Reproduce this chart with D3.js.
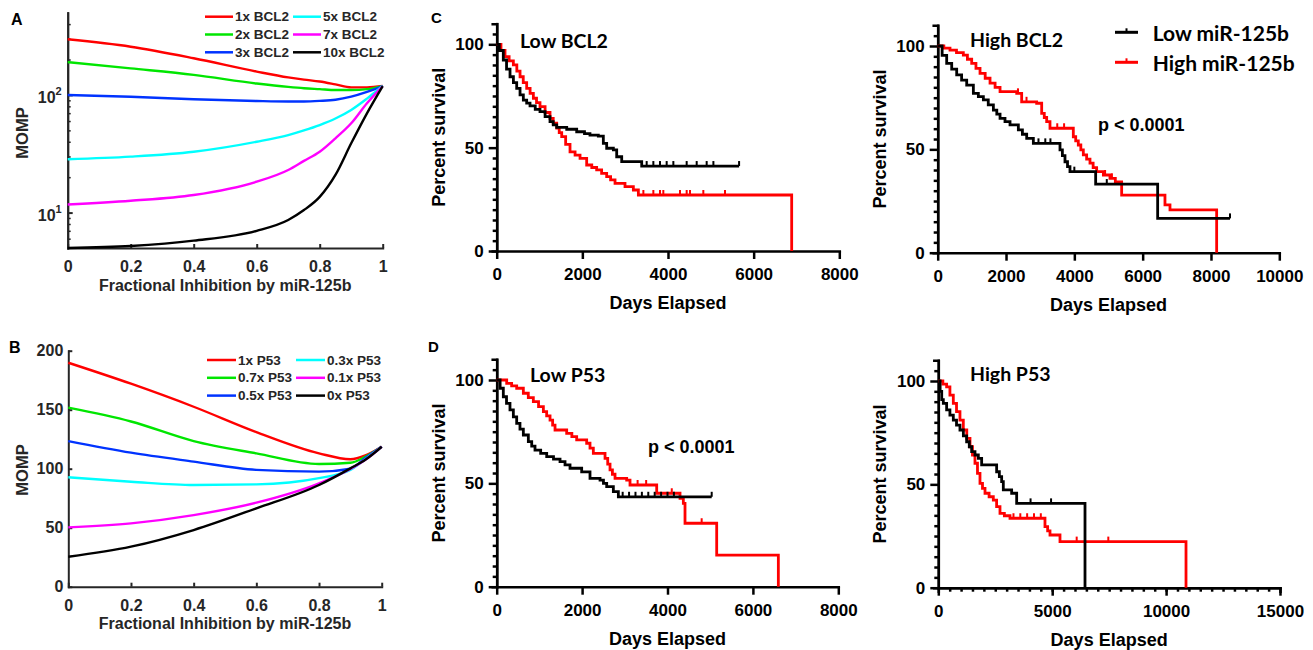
<!DOCTYPE html>
<html lang="en">
<head>
<meta charset="UTF-8">
<title>MOMP and survival</title>
<script src="https://d3js.org/d3.v7.min.js"></script>
<style>
  body { margin: 0; background: #fff; }
  text { font-family: "Liberation Sans", Arial, sans-serif; }
</style>
</head>
<body>
<script>
    // ---- panel A: MOMP vs inhibition, BCL2 levels (log axis)
    fracA = [0, 0.2, 0.4, 0.6, 0.7, 0.75, 0.8, 0.85, 0.9, 0.95, 1]
    bcl2Labels = ["1x BCL2", "2x BCL2", "3x BCL2", "5x BCL2", "7x BCL2", "10x BCL2"]
    bcl2_1x  = [297, 257, 205, 158, 141, 135, 130, 123, 116, 116, 119]
    bcl2_2x  = [190, 168, 148, 125, 117, 114, 112, 110, 110, 112, 119]
    bcl2_3x  = [100, 96.6, 91.8, 88.8, 88, 88, 89, 91, 96.6, 106, 119]
    bcl2_5x  = [28.4, 29.9, 32.9, 40, 45.6, 50, 55.5, 63, 74.5, 93, 119]
    bcl2_7x  = [11.7, 12.6, 14.1, 18.3, 23, 27.5, 32.9, 42.8, 57.4, 85, 119]
    bcl2_10x = [5, 5.2, 5.77, 7.0, 8.65, 10.5, 13.6, 20.9, 38.8, 69.8, 119]

    // ---- panel B: MOMP vs inhibition, P53 levels
    fracB = [0, 0.2, 0.4, 0.6, 0.8, 0.9, 0.95, 1]
    p53Labels = ["1x P53", "0.7x P53", "0.5x P53", "0.3x P53", "0.1x P53", "0x P53"]
    p53_1   = [189.8, 172, 152.5, 131, 113, 108, 111.5, 118.6]
    p53_07  = [151.7, 140, 123.4, 113, 104, 105, 110.5, 118.6]
    p53_05  = [123.4, 113.6, 106, 99, 97.5, 100, 109.5, 118.6]
    p53_03  = [92.7, 89, 86.2, 86.7, 92, 99, 108.5, 118.6]
    p53_01  = [50.3, 53.7, 60.7, 71.2, 87.6, 99.7, 108, 118.6]
    p53_0   = [25.4, 33.9, 48, 66.4, 86.2, 100.3, 108, 118.6]

    modelColors = ["#ff0000", "#00e600", "#0033ff", "#00ffff", "#ff00ff", "#000000"]

    // ---- Kaplan-Meier curves: [days, percent survival] at each step
    lowBcl2_lowMir = [[0,100],[60,97],[154,92.4],[230,88],[311,84.3],[390,81.5],[467,78.7],[545,75.5],[622,73],[700,71.5],[778,70.2],[900,68.5],[1011,67.4],[1130,65],[1245,62.6],[1320,61],[1401,59.8],[1635,58.9],[1868,57.7],[2050,56.8],[2178,56.1],[2373,55.6],[2490,52.1],[2568,49.7],[2724,48.9],[2802,45.6],[2919,43.2],[3386,41.1],[5660,41.1]]
    lowBcl2_highMir = [[0,100],[100,97],[194,94],[290,92],[389,90],[470,87],[545,84.3],[620,81.5],[700,78.7],[780,76.3],[856,73.9],[930,71.8],[1011,69.8],[1130,67],[1245,64.2],[1320,61.8],[1401,59.4],[1460,57.3],[1518,55.3],[1610,51.6],[1712,48],[1830,46.4],[1946,44.8],[2101,41.6],[2220,40.4],[2334,39.2],[2450,37.6],[2568,36],[2660,34.4],[2763,32.7],[2996,31.1],[3191,29.5],[3308,27.1],[6888,0]]
    lowBcl2_lowMirCens = [3502, 3658, 3813, 3969, 4125, 4436, 4670, 4903, 5060, 5660]
    lowBcl2_highMirCens = [3425, 3658, 3813, 3891, 4280, 4436, 4514, 4825, 5331]

    highBcl2_lowMir = [[0,100],[130,95.5],[263,91.6],[410,88.8],[556,86],[700,83.5],[849,81.1],[1044,77.1],[1190,75.5],[1337,73.9],[1480,71.5],[1630,69],[1730,67],[1825,65],[1970,63.4],[2117,61.8],[2361,59.4],[2480,57.3],[2605,55.3],[2800,52.9],[3580,49.7],[3650,47],[3726,44],[3800,41.6],[3872,39.2],[4624,33.2],[6439,16.6],[8556,16.6]]
    highBcl2_highMir = [[0,100],[180,99],[360,98],[550,96.8],[750,95.6],[870,93.6],[995,91.6],[1120,89.2],[1239,86.8],[1390,84.4],[1532,82],[1680,80],[1825,77.9],[2313,77.1],[2458,73],[2897,72.3],[3044,67.4],[3120,65.4],[3190,63.4],[3287,60.2],[3970,56.1],[4040,54.1],[4116,52.1],[4190,49.7],[4263,47.3],[4360,45.3],[4458,43.3],[4550,41.2],[4653,39.2],[4850,37.6],[5043,36],[5200,34.3],[5385,27.9],[6653,23.1],[6800,20.7],[8166,0]]
    highBcl2_lowMirCens = [2950, 3150, 3300, 4000, 4950, 8556]
    highBcl2_highMirCens = [2350, 2600, 3500, 3700, 4900, 5100]

    lowP53_lowMir = [[0,100],[80,96],[155,91.9],[230,88.7],[311,85.5],[390,82.2],[468,79],[545,76.2],[624,73.4],[741,70.2],[820,68],[897,66.1],[1030,64.5],[1171,62.9],[1330,61.7],[1483,60.5],[1600,58.9],[1717,57.3],[1990,55.6],[2185,52.4],[2420,51.6],[2500,50],[2576,48.4],[2732,46],[2849,43.5],[5035,43.5]]
    lowP53_highMir = [[0,100],[234,98.4],[350,97.2],[468,96],[624,93.6],[740,91.5],[858,89.5],[980,87.1],[1093,84.7],[1170,82.6],[1249,80.6],[1310,78.2],[1366,75.8],[1639,74.2],[1760,72.6],[1873,71],[2107,69.4],[2185,67],[2263,64.5],[2537,62.1],[2600,59.3],[2654,56.5],[2710,54.4],[2771,52.4],[3044,51.6],[3122,49.2],[3747,45.2],[4293,42.8],[4371,40.3],[4410,30.7],[5152,15.3],[6596,0]]
    lowP53_lowMirCens = [2950, 3100, 3250, 3400, 3550, 3700, 3850, 4000, 4150, 5035]
    lowP53_highMirCens = [3300, 3500, 4100, 4800]

    highP53_lowMir = [[0,100],[80,95],[150,91],[220,89.2],[366,86],[510,83.5],[659,81.1],[800,78.7],[951,76.3],[1100,73.5],[1244,70.6],[1360,68.2],[1464,65.8],[1610,64.2],[1757,62.6],[1903,59.4],[2561,56.1],[2680,53.7],[2781,51.3],[2854,47.3],[3220,45.7],[3440,40.8],[6440,0]]
    highP53_highMir = [[0,100],[200,98.5],[366,97.2],[510,93.2],[659,89.2],[800,85.2],[951,81.1],[1098,76.3],[1250,72.2],[1391,68.2],[1500,64.2],[1610,60.2],[1720,55.3],[1830,50.5],[1940,48.1],[2050,45.7],[2230,44],[2415,42.4],[2560,39.2],[2708,36],[2900,34.8],[3147,33.6],[4683,29.5],[4800,27.5],[4903,25.5],[5342,22.3],[10874,0]]
    highP53_lowMirCens = [4050, 4950]
    highP53_highMirCens = [3300, 3600, 3900, 4200, 4500, 6075, 7463]

    svg = d3.select("body").append("svg")
        .attr("width", 1313)
        .attr("height", 650)

    function styleAxis(ax, color, size, width) {
        ax.select(".domain").attr("stroke", color).attr("stroke-width", width).attr("stroke-linecap", "square")
        ax.selectAll(".tick line").attr("stroke", color).attr("stroke-width", width)
        ax.selectAll(".tick text")
            .attr("fill", color)
            .attr("font-size", size)
            .attr("font-weight", "bold")
            .attr("font-family", "'Liberation Sans', Arial, sans-serif")
    }

    function modelPanel(o) {
        g = svg.append("g")
        x = d3.scaleLinear().domain([0, 1]).range(o.xr)
        y = o.y
        line = d3.line()
            .x((d, i) => x(o.frac[i]))
            .y(d => y(d))
            .curve(d3.curveMonotoneX)

        //axes
        ax = g.append("g")
            .attr("transform", "translate(0," + y.range()[0] + ")")
            .call(d3.axisBottom(x).tickValues([0, 0.2, 0.4, 0.6, 0.8, 1])
                .tickSizeInner(-4).tickSizeOuter(0).tickPadding(13)
                .tickFormat(d3.format("~g")))
        styleAxis(ax, "#262626", 16, 2)

        ay = g.append("g").attr("transform", "translate(" + o.xr[0] + ",0)")
        if (o.log) {
            minor = [6, 7, 8, 9, 20, 30, 40, 50, 60, 70, 80, 90, 200, 300, 400]
            ay.call(d3.axisLeft(y).tickValues(minor).tickSizeInner(-3).tickSizeOuter(0).tickFormat(""))
            styleAxis(ay, "#262626", 16, 2)
            ay.selectAll(".tick line").attr("stroke-width", 1.5)
            ay2 = g.append("g").attr("transform", "translate(" + o.xr[0] + ",0)")
                .call(d3.axisLeft(y).tickValues([10, 100]).tickSizeInner(-5).tickSizeOuter(0).tickFormat(""))
            styleAxis(ay2, "#262626", 16, 2)
            g.selectAll("text.sup").data([[10, "1"], [100, "2"]]).join("text")
                .attr("class", "sup")
                .attr("x", o.xr[0] - 6)
                .attr("y", d => y(d[0]) + 8)
                .attr("text-anchor", "end")
                .attr("fill", "#262626")
                .attr("font-size", 16)
                .attr("font-weight", "bold")
                .text("10")
                .append("tspan")
                .attr("dy", -8)
                .attr("font-size", 11)
                .text(d => d[1])
        } else {
            ay.call(d3.axisLeft(y).tickValues([0, 50, 100, 150, 200])
                .tickSizeInner(-4).tickSizeOuter(0).tickPadding(5))
            styleAxis(ay, "#262626", 16, 2)
        }

        o.series.forEach((s, i) => {
            g.append("path")
                .attr("d", line(s))
                .attr("fill", "none")
                .attr("stroke", modelColors[i])
                .attr("stroke-width", 2.4)
        })

        //legend, 2 columns x 3 rows
        o.labels.forEach((lab, i) => {
            col = Math.floor(i / 3)
            row = i % 3
            ly = o.legY + row * 17.8
            lx = o.legX[col]
            g.append("line")
                .attr("x1", lx).attr("x2", lx + o.legLen)
                .attr("y1", ly).attr("y2", ly)
                .attr("stroke", modelColors[i]).attr("stroke-width", 2.5)
            g.append("text")
                .attr("x", lx + o.legLen + 2).attr("y", ly)
                .attr("dominant-baseline", "central")
                .attr("fill", "#262626")
                .attr("font-size", 13.5)
                .attr("font-weight", "bold")
                .text(lab)
        })

        g.append("text")
            .attr("transform", "translate(" + (o.xr[0] - 46) + "," + o.yMid + ") rotate(-90)")
            .attr("text-anchor", "middle")
            .attr("dominant-baseline", "central")
            .attr("fill", "#262626").attr("font-size", 16.5).attr("font-weight", "bold")
            .text("MOMP")
        g.append("text")
            .attr("x", (o.xr[0] + o.xr[1]) / 2)
            .attr("y", y.range()[0] + 37)
            .attr("text-anchor", "middle")
            .attr("dominant-baseline", "central")
            .attr("fill", "#262626").attr("font-size", 16).attr("font-weight", "bold")
            .text("Fractional Inhibition by miR-125b")
        g.append("text")
            .attr("x", o.letter[0]).attr("y", o.letter[1])
            .attr("fill", "#000").attr("font-size", 16).attr("font-weight", "bold")
            .text(o.letter[2])
    }

    function stepValue(pts, t) {
        v = pts[0][1]
        pts.forEach(p => { if (p[0] <= t) v = p[1] })
        return v
    }

    function kmPanel(o) {
        g = svg.append("g")
        x = d3.scaleLinear().domain([0, o.xMax]).range([o.x0, o.x1])
        y = d3.scaleLinear().domain([0, 110]).range([o.y0, o.y0 - 110 * 2.067])
        line = d3.line().x(d => x(d[0])).y(d => y(d[1])).curve(d3.curveStepAfter)

        //minor ticks first
        aym = g.append("g").attr("transform", "translate(" + o.x0 + ",0)")
            .call(d3.axisLeft(y).tickValues(d3.range(5, 110, 5).filter(v => v % 50 != 0))
                .tickSize(4).tickFormat(""))
        styleAxis(aym, "#000", 17, 2.5)
        if (o.xMinor) {
            axm = g.append("g").attr("transform", "translate(0," + o.y0 + ")")
                .call(d3.axisBottom(x).tickValues(d3.range(o.xMinor, o.xMax, o.xMinor))
                    .tickSize(4).tickFormat(""))
            styleAxis(axm, "#000", 17, 2.5)
        }
        ay = g.append("g").attr("transform", "translate(" + o.x0 + ",0)")
            .call(d3.axisLeft(y).tickValues([0, 50, 100]).tickSizeInner(8).tickSizeOuter(0).tickPadding(5))
        styleAxis(ay, "#000", 17, 2.5)
        ax = g.append("g").attr("transform", "translate(0," + o.y0 + ")")
            .call(d3.axisBottom(x).tickValues(o.xTicks).tickSizeInner(8).tickSizeOuter(0)
                .tickPadding(9).tickFormat(d3.format("d")))
        styleAxis(ax, "#000", 17, 2.5)

        o.curves.forEach(c => {
            g.append("path")
                .attr("d", line(c.pts))
                .attr("fill", "none")
                .attr("stroke", c.color)
                .attr("stroke-width", 2.8)
            g.selectAll(null).data(c.cens).join("line")
                .attr("x1", d => x(d)).attr("x2", d => x(d))
                .attr("y1", d => y(stepValue(c.pts, d)))
                .attr("y2", d => y(stepValue(c.pts, d)) - 5)
                .attr("stroke", c.color).attr("stroke-width", 2)
        })

        g.append("text")
            .attr("transform", "translate(" + (o.x0 - 58) + "," + ((y(0) + y(110)) / 2) + ") rotate(-90)")
            .attr("text-anchor", "middle").attr("dominant-baseline", "central")
            .attr("font-size", 18).attr("font-weight", "bold")
            .text("Percent survival")
        g.append("text")
            .attr("x", (o.x0 + o.x1) / 2).attr("y", o.y0 + 52)
            .attr("text-anchor", "middle").attr("dominant-baseline", "central")
            .attr("font-size", 18).attr("font-weight", "bold")
            .text("Days Elapsed")
        g.append("text")
            .attr("x", o.title[0]).attr("y", o.title[1])
            .attr("dominant-baseline", "central")
            .attr("font-size", 19.5).attr("font-weight", "bold")
            .style("font-family", "Lato, 'Open Sans', sans-serif")
            .text(o.title[2])
        if (o.pval) {
            g.append("text")
                .attr("x", o.pval[0]).attr("y", o.pval[1])
                .attr("font-size", 18).attr("font-weight", "bold")
                .text("p < 0.0001")
        }
        if (o.letter) {
            g.append("text")
                .attr("x", o.letter[0]).attr("y", o.letter[1])
                .attr("font-size", 15).attr("font-weight", "bold")
                .text(o.letter[2])
        }
    }

    modelPanel({
        frac: fracA, log: true,
        xr: [67.7, 382.7],
        y: d3.scaleLog().domain([5, 500]).range([248, 12.7]),
        series: [bcl2_1x, bcl2_2x, bcl2_3x, bcl2_5x, bcl2_7x, bcl2_10x],
        labels: bcl2Labels,
        legX: [205, 293], legY: 16.7, legLen: 28,
        yMid: 133, letter: [11, 25, "A"]
    })

    modelPanel({
        frac: fracB, log: false,
        xr: [68.3, 381.7],
        y: d3.scaleLinear().domain([0, 200]).range([586.7, 350.7]),
        series: [p53_1, p53_07, p53_05, p53_03, p53_01, p53_0],
        labels: p53Labels,
        legX: [207, 296], legY: 360, legLen: 29,
        yMid: 470, letter: [9, 353, "B"]
    })

    kmPanel({
        x0: 496.7, x1: 839.3, xMax: 8000, xTicks: [0, 2000, 4000, 6000, 8000], y0: 251,
        curves: [
            {pts: lowBcl2_highMir, cens: lowBcl2_highMirCens, color: "#ff0000"},
            {pts: lowBcl2_lowMir, cens: lowBcl2_lowMirCens, color: "#000000"}
        ],
        title: [520, 40, "Low BCL2"], letter: [431, 23, "C"]
    })

    kmPanel({
        x0: 937.7, x1: 1279.3, xMax: 10000, xTicks: [0, 2000, 4000, 6000, 8000, 10000], y0: 252.7,
        curves: [
            {pts: highBcl2_highMir, cens: highBcl2_highMirCens, color: "#ff0000"},
            {pts: highBcl2_lowMir, cens: highBcl2_lowMirCens, color: "#000000"}
        ],
        title: [970, 39, "High BCL2"], pval: [1098, 131]
    })

    kmPanel({
        x0: 496.7, x1: 838.3, xMax: 8000, xTicks: [0, 2000, 4000, 6000, 8000], y0: 586.7,
        curves: [
            {pts: lowP53_highMir, cens: lowP53_highMirCens, color: "#ff0000"},
            {pts: lowP53_lowMir, cens: lowP53_lowMirCens, color: "#000000"}
        ],
        title: [530, 374, "Low P53"], pval: [648, 452.7], letter: [428, 352, "D"]
    })

    kmPanel({
        x0: 938.3, x1: 1280, xMax: 15000, xTicks: [0, 5000, 10000, 15000], xMinor: 500, y0: 587.7,
        curves: [
            {pts: highP53_highMir, cens: highP53_highMirCens, color: "#ff0000"},
            {pts: highP53_lowMir, cens: highP53_lowMirCens, color: "#000000"}
        ],
        title: [970, 373, "High P53"]
    })

    //survival legend
    legend = svg.append("g")
    ;[["Low miR-125b", "#000000", 32.3], ["High miR-125b", "#ff0000", 62.3]].forEach(d => {
        legend.append("line")
            .attr("x1", 1115).attr("x2", 1138).attr("y1", d[2]).attr("y2", d[2])
            .attr("stroke", d[1]).attr("stroke-width", 3)
        legend.append("line")
            .attr("x1", 1126.5).attr("x2", 1126.5).attr("y1", d[2]).attr("y2", d[2] - 4)
            .attr("stroke", d[1]).attr("stroke-width", 2)
        legend.append("text")
            .attr("x", 1152.7).attr("y", d[2])
            .attr("dominant-baseline", "central")
            .attr("font-size", 21).attr("font-weight", "bold")
            .style("font-family", "Lato, 'Open Sans', sans-serif")
            .text(d[0])
    })
</script>
</body>
</html>
